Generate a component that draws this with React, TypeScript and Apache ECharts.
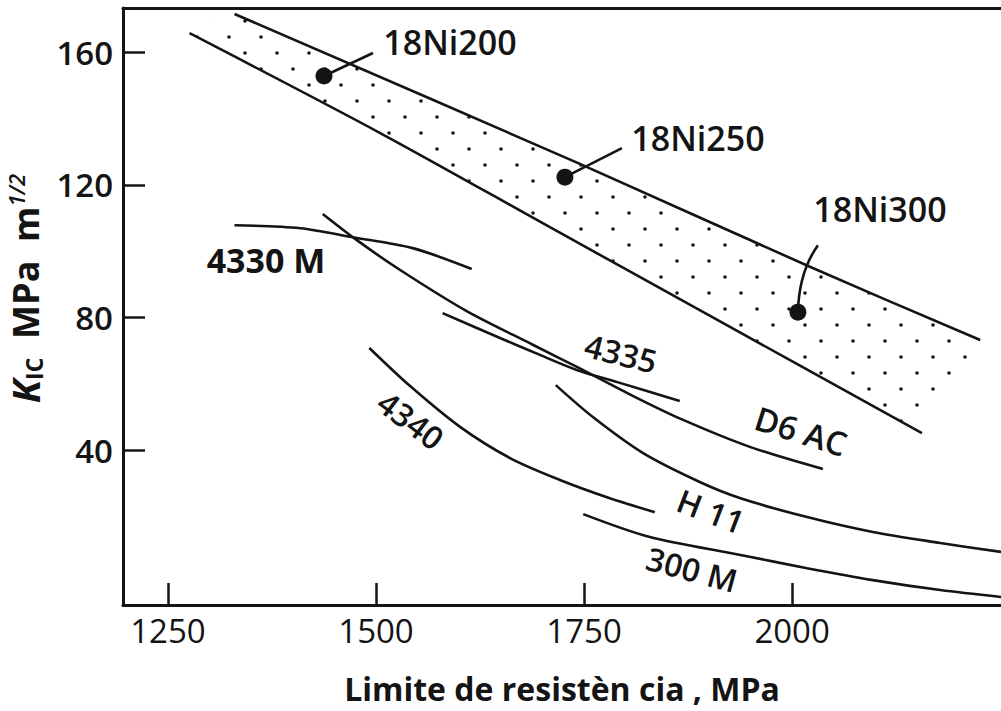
import React, { useEffect, useRef } from "react";
import * as echarts from "echarts";

// ---------- data ----------
const xTicks = [1250, 1500, 1750, 2000];
const yTicks = [40, 80, 120, 160];

const bandUpper = [[1330, 171.5], [1745, 126.3], [2022, 95.2], [2226, 73.2]];
const bandLower = [[1276, 165.7], [1505, 135.6], [1709, 107.2], [1889, 82.2], [2156, 45.1]];

const steel4330M = [[1330, 107.8], [1409, 106.9], [1472, 104.2], [1544, 100.9], [1615, 94.6]];
const steelD6AC = [[1436, 111.2], [1477, 103.3], [1529, 94.3], [1609, 81.9], [1689, 71.7], [1742, 65.0], [1809, 56.3], [1869, 49.1], [1950, 40.9], [2037, 34.3]];
const steel4335 = [[1580, 81.3], [1649, 73.8], [1697, 68.7], [1742, 64.1], [1790, 60.5], [1865, 54.8]];
const steel4340 = [[1492, 70.8], [1541, 59.3], [1601, 47.0], [1661, 37.6], [1721, 31.0], [1781, 25.5], [1835, 21.3]];
const steelH11 = [[1716, 59.6], [1761, 49.9], [1821, 39.1], [1889, 30.4], [1938, 25.5], [2018, 19.8], [2097, 15.3], [2178, 12.0], [2251, 9.3]];
const steel300M = [[1749, 20.7], [1829, 13.8], [1938, 8.4], [2018, 4.4], [2097, 0.8], [2178, -2.2], [2251, -4.3]];

const maragingNames = ["18Ni200", "18Ni250", "18Ni300"];
const maragingPoints = [[1437.5, 152.8], [1727, 122.3], [2007, 81.6]];

// ---------- styling ----------
const FONT = "'Open Sans', 'Noto Sans', sans-serif";
const INK = "#141414";

const TILE = 32;
const stippleSvg =
  `<svg xmlns='http://www.w3.org/2000/svg' width='${TILE}' height='${TILE}'>` +
  "<circle cx='5' cy='5' r='1.8' fill='#141414'/>" +
  "<circle cx='21' cy='21' r='1.8' fill='#141414'/></svg>";
const stippleUrl = "data:image/svg+xml;charset=utf-8," + encodeURIComponent(stippleSvg);

const curve = (name: string, data: number[][]) => ({
  name,
  type: "line",
  data,
  smooth: 0.3,
  showSymbol: false,
  symbol: "none",
  silent: true,
  z: 3,
  lineStyle: { color: INK, width: 2.6 },
});

// label placements (pixel layout)
const curveLabels = [
  { text: "4330 M", x: 266, y: 260, rot: 0, size: 34, weight: 700 },
  { text: "4335", x: 621, y: 353, rot: -14, size: 32, weight: 600 },
  { text: "4340", x: 411, y: 420, rot: -37, size: 32, weight: 600 },
  { text: "D6 AC", x: 801, y: 431, rot: -17.6, size: 33, weight: 600 },
  { text: "H 11", x: 711, y: 511, rot: -21, size: 32, weight: 600 },
  { text: "300 M", x: 692, y: 569, rot: -15, size: 32, weight: 600 },
];
const maragingLabelOffsets = [[126, -34], [133, -39], [82, -103]];
const leaderEnds = [[49, -23], [57, -29], [20, -67]];
const leaderCtrl = [null, null, [1, -40]];

export default function App() {
  const ref = useRef<HTMLDivElement>(null);

  useEffect(() => {
    const chart = echarts.init(ref.current!, null, { renderer: "svg" });

    const axisLineStyle = { color: INK, width: 3 };
    const plain = (v: number) => String(v);

    chart.setOption({
      animation: false,
      backgroundColor: "#ffffff",
      grid: { left: 123, right: 0, top: 8, bottom: 106, containLabel: false, outerBoundsMode: "none" },
      xAxis: [
        {
          type: "value",
          min: 1196,
          max: 2251,
          name: "Limite de resistèn cia , MPa",
          nameLocation: "middle",
          nameGap: 67,
          nameTextStyle: { fontFamily: FONT, fontSize: 32, lineHeight: 32, fontWeight: 700, color: INK },
          axisLine: { show: true, onZero: false, lineStyle: axisLineStyle },
          axisTick: { show: true, inside: true, length: 22, customValues: xTicks, lineStyle: { color: INK, width: 2.5 } },
          axisLabel: { customValues: xTicks, formatter: plain, fontFamily: FONT, fontSize: 33, fontWeight: 500, color: INK, margin: 9 },
          splitLine: { show: false },
        },
        {
          type: "value",
          position: "top",
          min: 1196,
          max: 2251,
          axisLine: { show: true, onZero: false, lineStyle: axisLineStyle },
          axisTick: { show: false },
          axisLabel: { show: false },
          splitLine: { show: false },
        },
      ],
      yAxis: {
        type: "value",
        min: -6.7,
        max: 173.3,
        name: "{k|K}{s|IC}{t|  MPa  m}{p|1/2}",
        nameLocation: "middle",
        nameRotate: 90,
        nameGap: 66,
        nameTextStyle: {
          padding: [0, 0, 0, 36],
          rich: {
            k: { fontFamily: FONT, fontSize: 38, fontWeight: 700, fontStyle: "italic", color: INK, lineHeight: 40, verticalAlign: "middle" },
            s: { fontFamily: FONT, fontSize: 23, fontWeight: 700, color: INK, lineHeight: 14, verticalAlign: "bottom" },
            t: { fontFamily: FONT, fontSize: 36, fontWeight: 700, color: INK, lineHeight: 40, verticalAlign: "middle" },
            p: { fontFamily: FONT, fontSize: 22, fontWeight: 600, fontStyle: "italic", color: INK, lineHeight: 24, verticalAlign: "top" },
          },
        },
        axisLine: { show: true, onZero: false, lineStyle: axisLineStyle },
        axisTick: { show: true, inside: true, length: 22, customValues: yTicks, lineStyle: { color: INK, width: 2.5 } },
        axisLabel: { customValues: yTicks, formatter: plain, fontFamily: FONT, fontSize: 33, fontWeight: 600, color: INK, margin: 10 },
        splitLine: { show: false },
      },
      series: [
        {
          name: "18Ni band",
          type: "custom",
          coordinateSystem: "cartesian2d",
          silent: true,
          z: 1,
          data: [[1700, 120]],
          renderItem: (_params: any, api: any) => {
            const pts = [
              ...bandUpper.map((p) => api.coord(p)),
              ...bandLower.slice().reverse().map((p) => api.coord(p)),
            ];
            return {
              type: "polygon",
              shape: { points: pts },
              style: {
                fill: { image: stippleUrl, repeat: "repeat", imageWidth: TILE, imageHeight: TILE },
                stroke: null,
              },
            };
          },
        },
        curve("18Ni upper", bandUpper),
        curve("18Ni lower", bandLower),
        curve("4330 M", steel4330M),
        curve("D6 AC", steelD6AC),
        curve("4335", steel4335),
        curve("4340", steel4340),
        curve("H 11", steelH11),
        curve("300 M", steel300M),
        {
          name: "18Ni",
          type: "scatter",
          data: maragingPoints.map((p, i) => ({ name: maragingNames[i], value: p })),
          symbol: "circle",
          symbolSize: 17,
          itemStyle: { color: INK, opacity: 1 },
          silent: true,
          z: 5,
        },
      ],
    });

    const graphics: any[] = [];
    maragingPoints.forEach((p, i) => {
      const c = chart.convertToPixel({ xAxisIndex: 0, yAxisIndex: 0 }, p) as number[];
      const e = leaderEnds[i];
      const cp = leaderCtrl[i];
      if (cp) {
        graphics.push({
          type: "bezierCurve",
          silent: true,
          shape: { x1: c[0], y1: c[1], x2: c[0] + e[0], y2: c[1] + e[1], cpx1: c[0] + cp[0], cpy1: c[1] + cp[1] },
          style: { stroke: INK, lineWidth: 2.6, fill: null },
          z: 4,
        });
      } else {
        graphics.push({
          type: "line",
          silent: true,
          shape: { x1: c[0], y1: c[1], x2: c[0] + e[0], y2: c[1] + e[1] },
          style: { stroke: INK, lineWidth: 2.6 },
          z: 4,
        });
      }
      const o = maragingLabelOffsets[i];
      graphics.push({
        type: "text",
        silent: true,
        x: c[0] + o[0],
        y: c[1] + o[1],
        style: {
          text: maragingNames[i],
          fontFamily: FONT,
          fontSize: 34,
          fontWeight: 600,
          fill: INK,
          align: "center",
          verticalAlign: "middle",
          textAlign: "center",
          textVerticalAlign: "middle",
        },
        z: 6,
      });
    });
    curveLabels.forEach((l) => {
      graphics.push({
        type: "text",
        silent: true,
        x: l.x,
        y: l.y,
        rotation: (l.rot * Math.PI) / 180,
        style: {
          text: l.text,
          fontFamily: FONT,
          fontSize: l.size,
          fontWeight: l.weight,
          fill: INK,
          align: "center",
          verticalAlign: "middle",
          textAlign: "center",
          textVerticalAlign: "middle",
        },
        z: 6,
      });
    });
    chart.setOption({ graphic: graphics });

    return () => chart.dispose();
  }, []);

  return (
    <div
      ref={ref}
      style={{ position: "absolute", left: 0, top: 0, width: 1001, height: 711, background: "#fff" }}
    />
  );
}
